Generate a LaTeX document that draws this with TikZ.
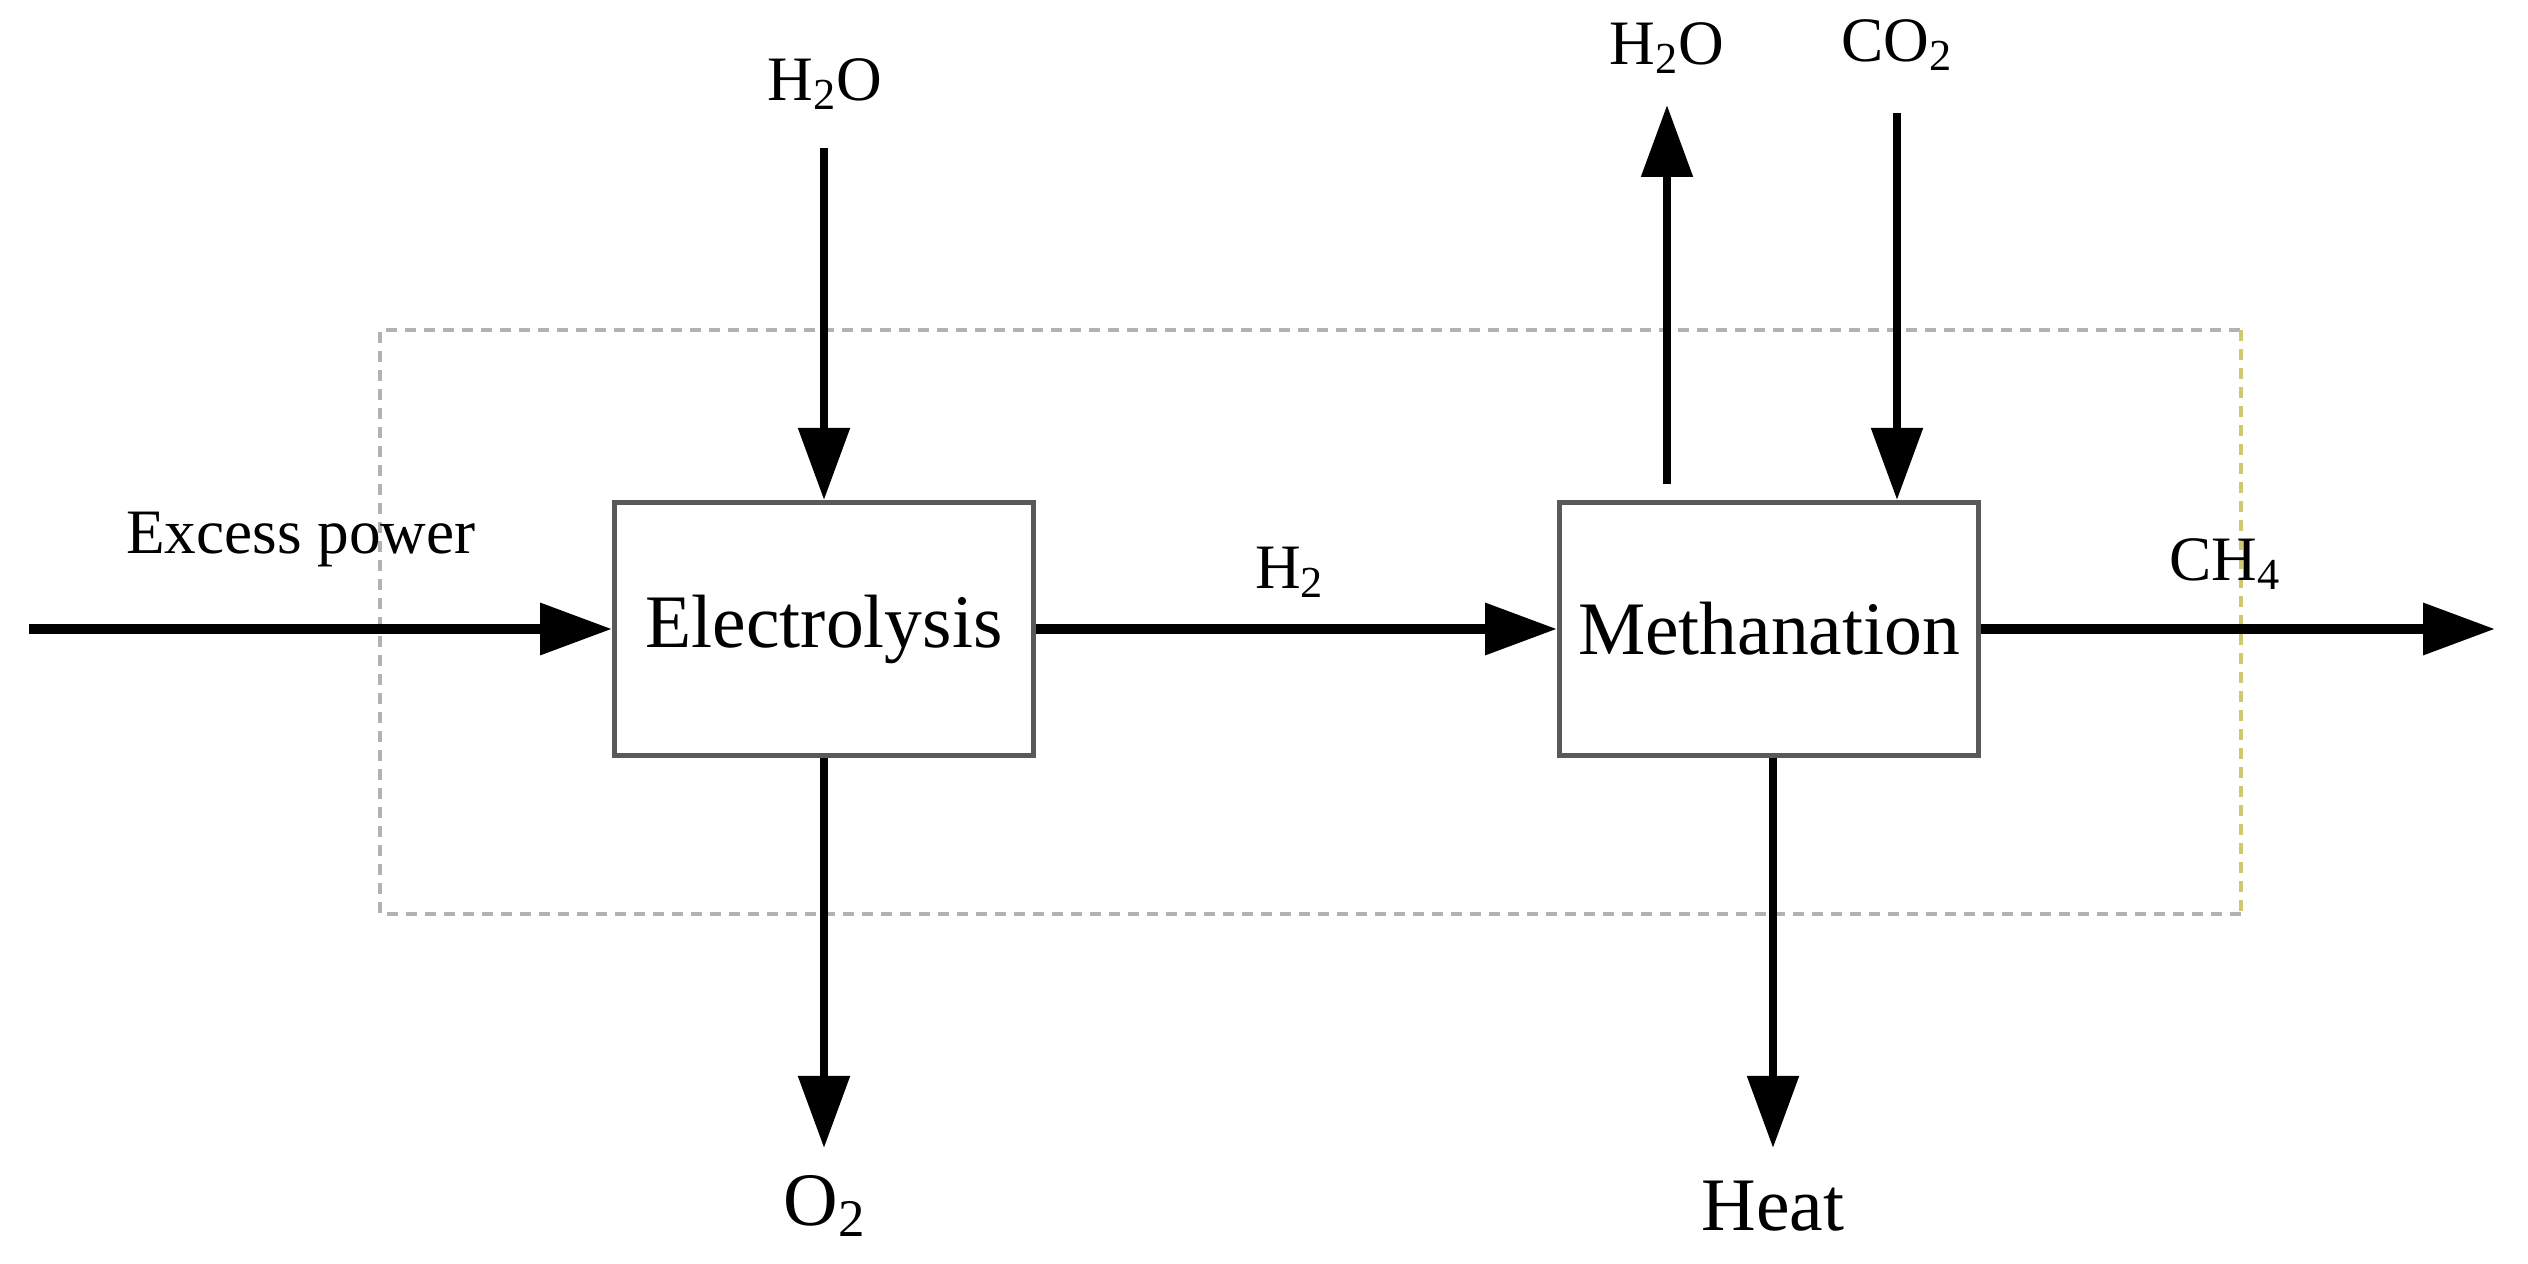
\documentclass[tikz,border=0pt]{standalone}
\usepackage{fontspec}
\setmainfont{Liberation Serif}
\usepackage{tikz}
\usetikzlibrary{arrows.meta,positioning}
\tikzstyle{block} = [rectangle, sharp corners, draw=black!65, line width=0.5mm,
                     fill=white, text centered, minimum width=4.19cm,
                     minimum height=2.53cm, font=\fontsize{21.5}{24}\selectfont]
\tikzstyle{species} = [inner sep=0pt, font=\fontsize{18}{20}\selectfont]
\tikzstyle{product} = [inner sep=0pt, font=\fontsize{21.5}{24}\selectfont]

\begin{document}
\begin{tikzpicture}[
flow/.style={line width=0.85mm, -{Triangle[length=7.2mm, width=5mm]}},
bigflow/.style={line width=1mm, -{Triangle[length=7.2mm, width=5mm]}},
envelope/.style={draw=black!30, line width=0.35mm, dash pattern=on 1.1mm off 0.8mm}]
\useasboundingbox (0,0) rectangle (25.28,12.64);
%System boundary
\draw[envelope] (22.41,3.50) -- (3.80,3.50) -- (3.80,9.34) -- (22.41,9.34);
\draw[envelope, draw=olive!45] (22.41,9.34) -- (22.41,3.50);

%Electrolysis
\node[block] at (8.24,6.35) (elec){Electrolysis};
%Methanation
\node[block] at (17.69,6.35) (meth){Methanation};

%Free ends
\coordinate (powerin) at (0.29,6.35);
\coordinate (ch4out) at (24.95,6.35);
\coordinate (waterin) at (8.24,11.16);
\coordinate (o2out) at (8.24,1.16);
\coordinate (waterout) at (16.67,11.59);
\coordinate (co2in) at (18.97,11.51);
\coordinate (heatout) at (17.73,1.16);

% Streams
\draw[bigflow] (powerin) -- (elec.west);
\draw[bigflow] (elec.east) -- (meth.west);
\draw[bigflow] (meth.east) -- (ch4out);
\draw[flow] (waterin) -- (elec.north);
\draw[flow] (elec.south) -- (o2out);
\draw[flow, shorten <=0.16cm] (meth.north -| waterout) -- (waterout);
\draw[flow] (co2in) -- (meth.north -| co2in);
\draw[flow] (meth.south -| heatout) -- (heatout);

% Labels
\node[species] at (8.25,11.80) (h2oin){H\textsubscript{2}O};
\node[product] at (8.25,0.58) (o2){O\textsubscript{2}};
\node[species] at (16.67,12.16) (h2oout){H\textsubscript{2}O};
\node[species] at (18.97,12.19) (co2){CO\textsubscript{2}};
\node[product] at (17.73,0.58) (heat){Heat};
\node[species] at (3.01,7.24) (power){Excess power};
\node[species] at (12.90,6.92) (h2){H\textsubscript{2}};
\node[species] at (22.25,7.00) (ch4){CH\textsubscript{4}};
\end{tikzpicture}
\end{document}
